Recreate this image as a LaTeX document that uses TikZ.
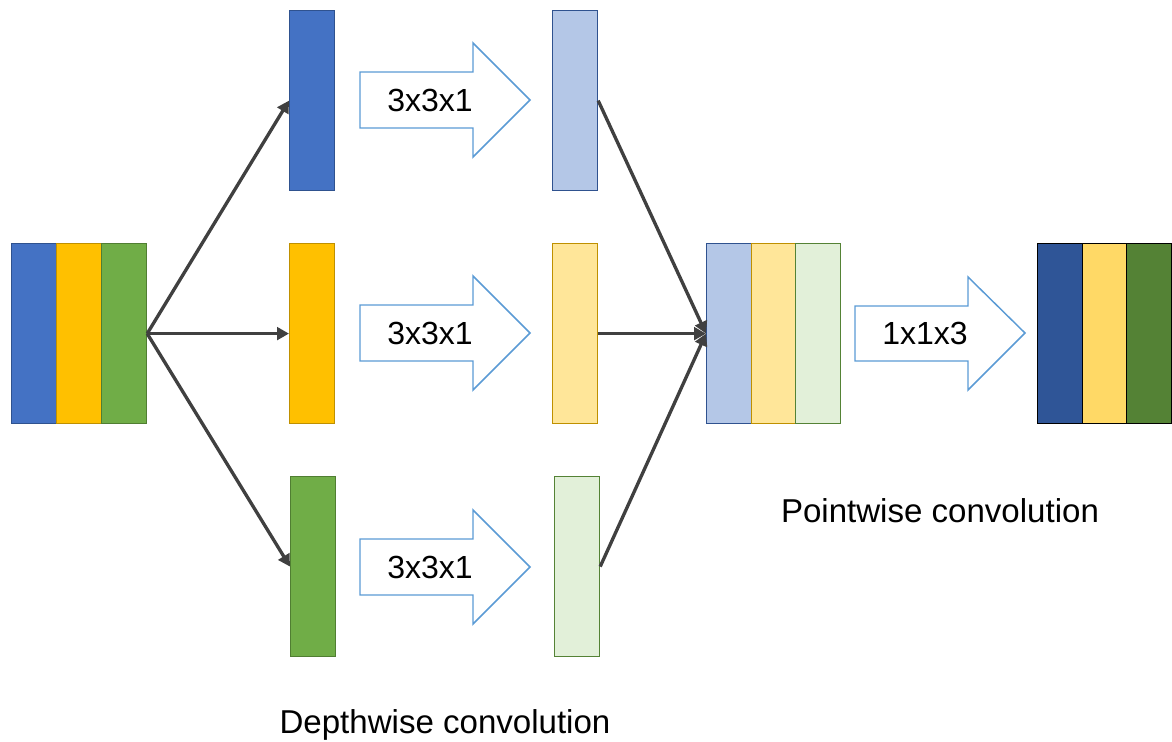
\documentclass[tikz,border=0pt]{standalone}
\usepackage{fontspec}
\setmainfont{Liberation Sans}
\usepackage{xcolor}
\usetikzlibrary{arrows.meta}

\definecolor{cblue}{HTML}{4472C4}
\definecolor{cyellow}{HTML}{FFC000}
\definecolor{cgreen}{HTML}{70AD47}
\definecolor{lblue}{HTML}{B4C7E7}
\definecolor{lyellow}{HTML}{FFE699}
\definecolor{lgreen}{HTML}{E2F0D9}
\definecolor{dblue}{HTML}{2F5597}
\definecolor{dyellow}{HTML}{FFD966}
\definecolor{dgreen}{HTML}{548235}
\definecolor{eblue}{HTML}{2F528F}
\definecolor{eyellow}{HTML}{BF9000}
\definecolor{egreen}{HTML}{507E32}
\definecolor{arrowgray}{HTML}{404040}
\definecolor{outline}{HTML}{5B9BD5}

\tikzset{
  bar/.style={draw,line width=0.9pt,minimum width=33.75pt,minimum height=135pt,
    inner sep=0pt,anchor=north west},
  conn/.style={draw=arrowgray,line width=2.5pt,-{Triangle[length=9pt,width=9.5pt]}},
  blockarrow/.style={draw=outline,line width=1.1pt,fill=white},
  lbl/.style={font=\fontsize{24}{28}\selectfont,inner sep=0pt},
  caption/.style={font=\fontsize{24.8}{29}\selectfont,inner sep=0pt,anchor=base}
}

\begin{document}
\begin{tikzpicture}[x=0.75pt,y=-0.75pt]
      \useasboundingbox (0,0) rectangle (1172,742);
      % input
      \node[bar,fill=cblue,draw=eblue] (in1) at (11,243) {};
      \node[bar,fill=cyellow,draw=eyellow] (in2) at (56,243) {};
      \node[bar,fill=cgreen,draw=egreen] (in3) at (101,243) {};
      % depthwise
      \node[bar,fill=cblue,draw=eblue] (dw1) at (289,10) {};
      \node[bar,fill=cyellow,draw=eyellow] (dw2) at (289,243) {};
      \node[bar,fill=cgreen,draw=egreen] (dw3) at (290,476) {};
      \node[bar,fill=lblue,draw=eblue] (mid1) at (552,10) {};
      \node[bar,fill=lyellow,draw=eyellow] (mid2) at (552,243) {};
      \node[bar,fill=lgreen,draw=dgreen] (mid3) at (554,476) {};
      \foreach \y/\i in {100/1,333/2,567/3}{
        \draw[blockarrow] (360,{\y-28}) -- (473,{\y-28}) -- (473,{\y-57}) -- (530,\y)
          -- (473,{\y+57}) -- (473,{\y+28}) -- (360,{\y+28}) -- cycle;
        \node[lbl] (k\i) at (430,\y) {3x3x1};
      }
      % stacked and pointwise
      \node[bar,fill=lblue,draw=eblue] (cat1) at (706,243) {};
      \node[bar,fill=lyellow,draw=eyellow] (cat2) at (751,243) {};
      \node[bar,fill=lgreen,draw=dgreen] (cat3) at (795,243) {};
      \draw[blockarrow] (855,306) -- (968,306) -- (968,277) -- (1025,333)
        -- (968,390) -- (968,361) -- (855,361) -- cycle;
      \node[lbl] (p) at (925,333) {1x1x3};
      \node[bar,fill=dblue,draw=black] (out1) at (1037,243) {};
      \node[bar,fill=dyellow,draw=black] (out2) at (1082,243) {};
      \node[bar,fill=dgreen,draw=black] (out3) at (1126,243) {};
      % connectors
      \draw[conn] (in3.east) -- (dw1.west);
      \draw[conn] (in3.east) -- (dw2.west);
      \draw[conn] (in3.east) -- (dw3.west);
      \draw[conn] (mid1.east) -- (cat1.west);
      \draw[conn] (mid2.east) -- (cat1.west);
      \draw[conn] (mid3.east) -- (cat1.west);
      \node[caption] (pw) at (940,522) {Pointwise convolution};
      \node[caption] (dw) at (445,733) {Depthwise convolution};
\end{tikzpicture}
\end{document}
